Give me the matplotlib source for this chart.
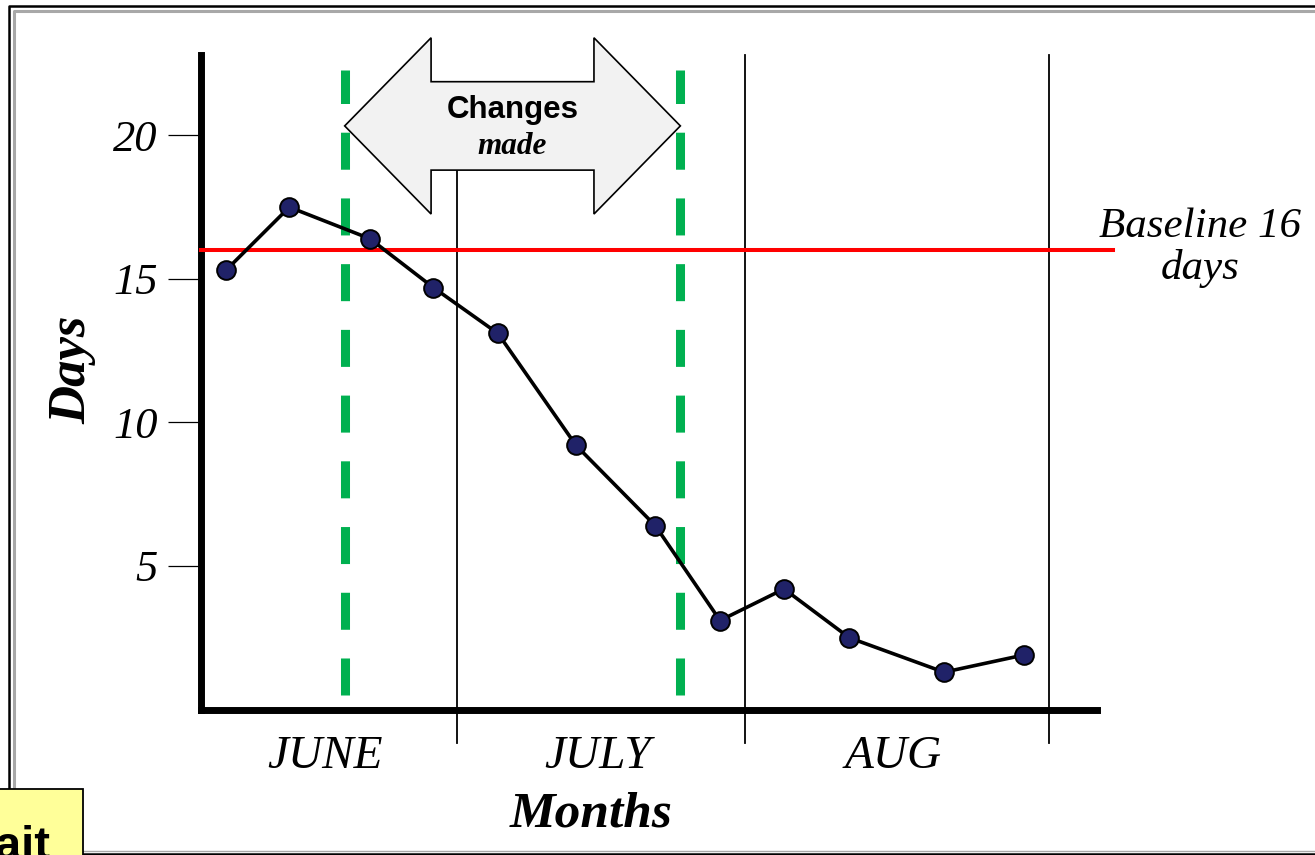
import matplotlib
matplotlib.use("Agg")
import matplotlib.pyplot as plt
from matplotlib.lines import Line2D
from matplotlib.patches import Polygon, Rectangle

# turnaround time per sample, read along a week-like position scale
positions = [0.39, 1.38, 2.64, 3.63, 4.64, 5.86, 7.10, 8.11, 9.11, 10.13, 11.61, 12.86]
days = [15.3, 17.5, 16.4, 14.7, 13.1, 9.2, 6.4, 3.1, 4.2, 2.5, 1.3, 1.9]

months = ["JUNE", "JULY", "AUG"]
month_edges = [0.0, 4.0, 8.5, 13.25]

baseline_days = 16
change_start = 2.245
change_end = 7.49
yticks = [5, 10, 15, 20]

SERIF = "Liberation Serif"
SANS = "Liberation Sans"

W, H = 1315, 855


def fx(px):
    return px / W


def fy(py):
    return 1 - py / H


def double_arrow(x0, x1, yc, head_len, head_half, shaft_half):
    pts = [
        (x0, yc),
        (x0 + head_len, yc + head_half),
        (x0 + head_len, yc + shaft_half),
        (x1 - head_len, yc + shaft_half),
        (x1 - head_len, yc + head_half),
        (x1, yc),
        (x1 - head_len, yc - head_half),
        (x1 - head_len, yc - shaft_half),
        (x0 + head_len, yc - shaft_half),
        (x0 + head_len, yc - head_half),
    ]
    return Polygon(pts, closed=True, facecolor="#f2f2f2", edgecolor="black",
                   linewidth=1.2, zorder=6, clip_on=False)


fig = plt.figure(figsize=(W / 100, H / 100), dpi=100)
ax = fig.add_axes([fx(201), fy(709.5), fx(1097) - fx(201), fy(55) - fy(709.5)])
ax.set_xlim(0, 14)
ax.set_ylim(0, 22.8)

for side in ["top", "right"]:
    ax.spines[side].set_visible(False)
for side in ["left", "bottom"]:
    ax.spines[side].set_linewidth(5)

ax.set_xticks([])
ax.set_yticks(yticks)
ax.set_yticklabels([str(t) for t in yticks])
ax.tick_params(axis="y", direction="out", length=24, width=0.9, pad=7, labelsize=32)
for label in ax.get_yticklabels():
    label.set_fontfamily(SERIF)
    label.set_fontstyle("italic")

# arrow marking the period when changes were made
arrow_y = 20.33
arrow = double_arrow(change_start, change_end, arrow_y, 1.35, 3.07, 1.54)
ax.add_patch(arrow)
mid = (change_start + change_end) / 2
ax.text(mid, 20.9, "Changes", ha="center", va="center", fontsize=22.5,
        fontweight="bold", family=SANS, zorder=7)
ax.text(mid, 19.6, "made", ha="center", va="center", fontsize=22.5,
        fontweight="bold", fontstyle="italic", family=SERIF, zorder=7)

# month separators, running below the axis
for edge in month_edges[1:]:
    top = arrow_y if change_start < edge < change_end else 22.8
    ax.plot([edge, edge], [-1.16, top], color="black", lw=1.3, clip_on=False, zorder=1)

for i, name in enumerate(months):
    centre = (month_edges[i] + month_edges[i + 1]) / 2
    ax.text(centre - 0.06, -2.04, name, ha="center", va="baseline", fontsize=34,
            fontstyle="italic", family=SERIF)

# start and end of the change period
for x in [change_start, change_end]:
    ax.plot([x, x], [0.505, 22.28], color="#00b050", lw=6.5,
            linestyle=(0, (4.1, 3.18)), solid_capstyle="butt", zorder=2)

ax.plot([0, 14.245], [baseline_days, baseline_days], color="#ff0000", lw=2.9,
        clip_on=False, zorder=3)
ax.text(15.61, baseline_days + 0.1, f"Baseline {baseline_days}\ndays", ha="center",
        va="center", fontsize=31, fontstyle="italic", family=SERIF, linespacing=1.1)

ax.plot(positions, days, color="black", lw=2.6, marker="o", markersize=13.5,
        markerfacecolor="#202268", markeredgecolor="black", markeredgewidth=1.4,
        zorder=4)

ax.text(6.09, -4.09, "Months", ha="center", va="baseline", fontsize=37,
        fontweight="bold", fontstyle="italic", family=SERIF)
ax.text(-2.01, 11.83, "Days", ha="center", va="center", rotation=90, fontsize=38,
        fontweight="bold", fontstyle="italic", family=SERIF)

# slide frame
fig.add_artist(Line2D([fx(8.5), fx(8.5), fx(1316)], [fy(853.5), fy(6), fy(6)],
                      color="black", lw=1.8))
fig.add_artist(Line2D([fx(8.5), fx(1316)], [fy(853.5), fy(853.5)], color="black", lw=1.8))
fig.add_artist(Line2D([fx(14.3), fx(14.3), fx(1316)], [fy(850), fy(11.3), fy(11.3)],
                      color="#a8a8a8", lw=2.2))
fig.add_artist(Line2D([fx(14.3), fx(1316)], [fy(850.5), fy(850.5)], color="#a8a8a8", lw=1.0))

fig.add_artist(Rectangle((fx(-2), fy(858)), fx(85.3), (858 - 789.3) / H,
                         transform=fig.transFigure, facecolor="#ffff99",
                         edgecolor="black", lw=1.3, zorder=8))
fig.text(fx(51), fy(859), "Wait", ha="right", va="baseline", fontsize=34,
         fontweight="bold", family=SANS, zorder=9)

fig.savefig("out.png", dpi=100, facecolor="white")
